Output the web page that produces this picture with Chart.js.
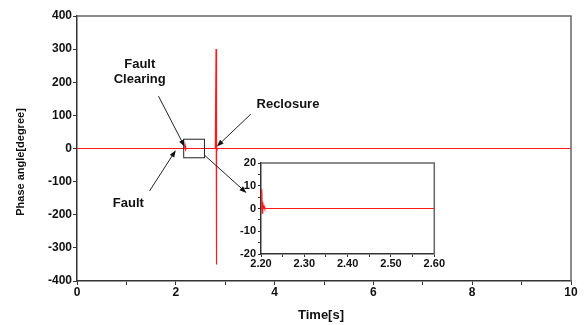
<!DOCTYPE html>
<html>
<head>
<meta charset="utf-8">
<script src="https://cdn.jsdelivr.net/npm/chart.js@4"></script>
<style>
  body { margin: 0; background: #fff; }
  #wrap { position: relative; width: 587px; height: 325px; }
  #mainChart { position: absolute; left: 0; top: 0; }
  #insetChart { position: absolute; left: 225px; top: 150px; }
</style>
</head>
<body>
<div id="wrap">
  <canvas id="mainChart" width="587" height="325"></canvas>
  <canvas id="insetChart" width="220" height="125"></canvas>
</div>
<script>
// main trace: phase angle vs time
var timeS = [0, 2.0, 2.18, 2.19, 2.2, 2.21, 2.8, 2.815, 2.82, 2.825, 2.83, 2.84, 10];
var phaseDeg = [0, 0, 0, 8, -3, 0, 0, 300, -350, 20, -10, 0, 0];

// zoomed trace 2.2 - 2.6 s
var insetTime = [2.2, 2.2018, 2.2028, 2.204, 2.2052, 2.207, 2.2085, 2.21, 2.6];
var insetPhase = [0, 8.5, -2, 3, 0, 1, 0, 0, 0];

// annotations, in data units
var noteTexts = ['Fault', 'Clearing', 'Reclosure', 'Fault'];
var noteX = [1.27, 1.27, 4.27, 1.04];
var noteY = [255, 210, 134, -165];
var arrowFrom = [[1.65, 158], [3.52, 104], [1.47, -128], [2.58, -20]];
var arrowTo = [[2.18, 5], [2.83, 6], [2.0, -5], [3.43, -134]];
var zoomBoxX = [2.16, 2.58];
var zoomBoxY = [-28, 28];

var FONT = "'Liberation Sans', Arial, sans-serif";
var RED = 'rgb(255,25,25)';

function toPoints(xs, ys){
    return xs.map(function(x, i){ return {x: x, y: ys[i]}; });
}

function drawArrow(ctx, x1, y1, x2, y2){
    var a = Math.atan2(y2 - y1, x2 - x1);
    var len = 7, w = 2.6;
    ctx.beginPath();
    ctx.moveTo(x1, y1);
    ctx.lineTo(x2 - Math.cos(a) * len * 0.8, y2 - Math.sin(a) * len * 0.8);
    ctx.stroke();
    ctx.beginPath();
    ctx.moveTo(x2, y2);
    ctx.lineTo(x2 - Math.cos(a) * len - Math.sin(a) * w, y2 - Math.sin(a) * len + Math.cos(a) * w);
    ctx.lineTo(x2 - Math.cos(a) * len + Math.sin(a) * w, y2 - Math.sin(a) * len - Math.cos(a) * w);
    ctx.closePath();
    ctx.fill();
}

var mainDecor = {
    id: 'mainDecor',
    afterDraw: function(chart){
        var ctx = chart.ctx, xs = chart.scales.x, ys = chart.scales.y, ca = chart.chartArea;
        ctx.save();
        // frame top/right
        ctx.strokeStyle = '#666';
        ctx.lineWidth = 1.5;
        ctx.beginPath();
        ctx.moveTo(ca.left, ca.top);
        ctx.lineTo(ca.right, ca.top);
        ctx.lineTo(ca.right, ca.bottom);
        ctx.stroke();

        // zoom box
        ctx.strokeStyle = '#222';
        ctx.lineWidth = 1;
        var bx1 = xs.getPixelForValue(zoomBoxX[0]), bx2 = xs.getPixelForValue(zoomBoxX[1]);
        var by1 = ys.getPixelForValue(zoomBoxY[1]), by2 = ys.getPixelForValue(zoomBoxY[0]);
        ctx.strokeRect(bx1, by1, bx2 - bx1, by2 - by1);

        // arrows
        ctx.fillStyle = '#111';
        ctx.strokeStyle = '#222';
        for (var i = 0; i < arrowFrom.length; i++){
            drawArrow(ctx,
                xs.getPixelForValue(arrowFrom[i][0]), ys.getPixelForValue(arrowFrom[i][1]),
                xs.getPixelForValue(arrowTo[i][0]), ys.getPixelForValue(arrowTo[i][1]));
        }

        // notes
        ctx.fillStyle = '#111';
        ctx.font = 'bold 13px ' + FONT;
        ctx.textAlign = 'center';
        ctx.textBaseline = 'middle';
        for (var j = 0; j < noteTexts.length; j++){
            ctx.fillText(noteTexts[j], xs.getPixelForValue(noteX[j]), ys.getPixelForValue(noteY[j]));
        }

        // axis titles
        ctx.font = 'bold 13px ' + FONT;
        ctx.fillText('Time[s]', 321, 315);
        ctx.translate(21, 162);
        ctx.rotate(-Math.PI / 2);
        ctx.font = 'bold 11px ' + FONT;
        ctx.fillText('Phase angle[degree]', 0, 0);
        ctx.restore();
    }
};

var mainChart = new Chart(document.getElementById('mainChart').getContext('2d'), {
    type: 'scatter',
    data: {
        datasets: [{
            data: toPoints(timeS, phaseDeg),
            showLine: true,
            borderColor: RED,
            borderWidth: 1.2,
            pointRadius: 0
        }]
    },
    options: {
        responsive: false,
        animation: false,
        layout: { padding: { left: 0, top: 16, right: 16, bottom: 0 } },
        plugins: { legend: { display: false }, tooltip: { enabled: false } },
        scales: {
            x: {
                type: 'linear', min: 0, max: 10,
                afterFit: function(s){ s.height = 44; },
                grid: { drawOnChartArea: false, tickLength: 4, color: '#333' },
                border: { color: '#333', width: 1.5 },
                ticks: {
                    stepSize: 1, padding: 0, color: '#111',
                    font: { family: FONT, size: 12, weight: 'bold' },
                    maxRotation: 0, autoSkip: false,
                    callback: function(v){ return v % 2 === 0 ? String(v) : ''; }
                }
            },
            y: {
                min: -400, max: 400,
                afterFit: function(s){ s.width = 77; },
                grid: { drawOnChartArea: false, tickLength: 4, color: '#333' },
                border: { color: '#333', width: 1.5 },
                ticks: {
                    stepSize: 100, padding: 1, color: '#111',
                    font: { family: FONT, size: 12, weight: 'bold' }
                }
            }
        }
    },
    plugins: [mainDecor]
});

var insetFrame = {
    id: 'insetFrame',
    afterDraw: function(chart){
        var ctx = chart.ctx, ca = chart.chartArea;
        ctx.save();
        ctx.strokeStyle = '#666';
        ctx.lineWidth = 1.5;
        ctx.beginPath();
        ctx.moveTo(ca.left, ca.top);
        ctx.lineTo(ca.right, ca.top);
        ctx.lineTo(ca.right, ca.bottom);
        ctx.stroke();
        ctx.restore();
    }
};

var insetChart = new Chart(document.getElementById('insetChart').getContext('2d'), {
    type: 'scatter',
    data: {
        datasets: [{
            data: toPoints(insetTime, insetPhase),
            showLine: true,
            borderColor: RED,
            borderWidth: 1.2,
            pointRadius: 0
        }]
    },
    options: {
        responsive: false,
        animation: false,
        layout: { padding: { left: 0, top: 13, right: 10, bottom: 0 } },
        plugins: { legend: { display: false }, tooltip: { enabled: false } },
        scales: {
            x: {
                type: 'linear', min: 2.2, max: 2.6,
                afterFit: function(s){ s.height = 21; },
                grid: { drawOnChartArea: false, tickLength: 3, color: '#333' },
                border: { color: '#333', width: 1.5 },
                ticks: {
                    stepSize: 0.05, padding: 0, color: '#111',
                    font: { family: FONT, size: 11, weight: 'bold' },
                    maxRotation: 0, autoSkip: false,
                    callback: function(v){
                        var t = Math.round(v * 100);
                        return t % 10 === 0 ? (t / 100).toFixed(2) : '';
                    }
                }
            },
            y: {
                min: -20, max: 20,
                afterFit: function(s){ s.width = 36; },
                grid: { drawOnChartArea: false, tickLength: 3, color: '#333' },
                border: { color: '#333', width: 1.5 },
                ticks: {
                    stepSize: 5, padding: 2, color: '#111',
                    font: { family: FONT, size: 11, weight: 'bold' },
                    autoSkip: false,
                    callback: function(v){ return v % 10 === 0 ? String(v) : ''; }
                }
            }
        }
    },
    plugins: [insetFrame]
});
</script>
</body>
</html>
